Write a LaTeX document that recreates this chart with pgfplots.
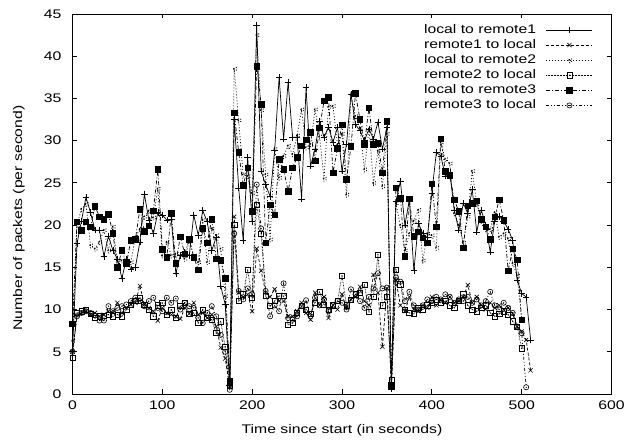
\documentclass[border=0pt]{standalone}
\usepackage{fontspec}
\setmainfont{Liberation Sans}
\usepackage{graphicx}
\usepackage{pgfplots}
\usepackage{pgfplotstable}
\pgfplotsset{compat=1.18}

% gnuplot text is wider than Arial: stretch it along the line
\newcommand{\sx}[1]{\scalebox{1.26}[1]{#1}}

\pgfdeclareplotmark{sqdot}{%
  \pgfpathrectangle{\pgfqpoint{-\pgfplotmarksize}{-\pgfplotmarksize}}{\pgfqpoint{2\pgfplotmarksize}{2\pgfplotmarksize}}%
  \pgfusepathqstroke
  \pgfpathcircle{\pgfpointorigin}{0.6pt}\pgfusepathqfill}
\pgfdeclareplotmark{ocdot}{%
  \pgfpathcircle{\pgfpointorigin}{\pgfplotmarksize}\pgfusepathqstroke
  \pgfpathcircle{\pgfpointorigin}{0.6pt}\pgfusepathqfill}

% A: local->remote1, B: remote1->local, C: local->remote2
% D: remote2->local, E: local->remote3, F: remote3->local
\pgfplotstableread{
t A B C D E F
0 5.0 5.0 6.3 4.3 8.3 5.0
5 17.8 9.3 20.0 9.6 20.4 9.2
10 20.5 9.6 21.9 9.8 19.4 9.6
15 23.3 9.8 22.5 10.0 20.4 9.8
20 21.5 9.4 17.6 9.5 19.8 9.6
25 19.4 9.6 17.2 9.0 22.2 9.3
30 19.4 9.2 18.0 9.2 21.0 8.7
35 16.3 9.4 19.4 9.3 20.7 8.7
40 18.7 9.8 17.0 9.4 21.3 10.4
45 17.0 9.6 19.8 9.2 19.0 9.8
50 16.0 10.8 15.6 9.4 15.0 10.2
55 13.7 9.6 15.8 9.2 17.0 10.4
60 16.0 10.2 15.4 10.0 15.5 10.6
65 14.8 10.6 15.6 10.6 18.2 11.0
70 15.0 10.8 18.6 11.0 18.3 11.4
75 18.0 12.8 19.5 11.4 21.9 11.0
80 23.7 10.6 21.0 10.6 19.3 10.4
85 20.6 10.2 21.7 10.0 19.9 11.0
90 19.0 9.8 20.9 9.2 21.7 11.4
95 21.5 8.7 24.3 10.5 26.6 10.2
100 21.2 10.2 16.4 10.8 17.1 9.8
105 20.6 9.6 18.0 9.4 16.2 11.4
110 20.7 9.4 16.4 10.0 21.4 10.8
115 14.3 9.2 16.6 9.0 15.5 11.3
120 16.4 8.9 16.4 10.4 18.6 10.0
125 16.8 10.2 16.0 10.8 16.6 10.8
130 16.4 9.5 18.2 9.5 18.3 10.4
135 21.2 10.8 16.4 9.6 16.2 10.2
140 18.8 9.4 15.6 8.4 14.7 9.0
145 21.7 9.6 20.6 10.0 19.6 8.4
150 20.4 9.0 15.6 9.0 17.9 9.6
155 17.0 9.4 19.6 8.8 20.7 10.4
160 18.6 8.0 18.8 7.2 16.0 9.2
165 12.8 5.5 17.2 8.6 15.8 7.0
170 10.6 4.2 11.6 5.6 13.7 5.0
175 1.0 0.8 1.0 1.0 1.5 0.5
180 32.5 21.0 38.5 20.0 33.3 19.0
185 24.4 12.0 32.4 11.0 28.6 12.2
190 18.2 11.5 26.0 11.8 24.7 11.2
195 28.0 11.8 25.8 14.7 26.8 12.5
200 20.4 9.8 23.8 11.4 21.6 11.8
205 43.7 17.2 42.5 22.4 38.8 24.8
210 26.4 14.6 33.6 19.0 34.3 19.6
215 24.8 12.0 26.0 11.6 17.9 12.2
220 23.4 11.5 18.3 10.4 22.4 9.2
225 28.8 12.4 29.0 11.0 21.2 10.5
230 37.5 11.0 25.6 11.6 27.8 9.8
235 30.2 11.0 28.2 11.6 26.6 13.1
240 36.9 9.2 29.4 8.2 24.0 9.0
245 30.4 9.2 28.4 8.4 26.8 8.8
250 30.4 9.8 30.6 9.6 28.0 9.2
255 23.1 10.8 33.7 10.4 29.4 10.4
260 36.3 9.6 29.2 10.0 30.1 11.1
265 27.0 8.8 29.6 9.5 31.0 9.2
270 29.0 12.0 33.7 10.8 27.6 11.4
275 32.3 10.5 30.5 12.1 31.5 10.5
280 30.4 11.5 25.5 10.6 34.7 11.2
285 31.6 9.0 34.0 10.0 35.1 9.8
290 29.8 10.5 34.1 10.5 26.2 10.5
295 31.6 10.0 29.5 11.0 29.1 11.0
300 26.4 11.8 30.8 14.0 31.9 10.8
305 29.6 10.2 23.6 10.5 25.4 10.0
310 35.5 11.2 35.4 11.2 29.3 12.4
315 31.9 11.5 32.9 11.8 35.6 11.8
320 31.2 12.7 31.5 12.0 32.5 11.0
325 30.0 11.0 26.6 12.9 29.6 10.2
330 31.4 10.5 31.4 9.7 33.9 11.5
335 30.2 14.1 25.0 11.5 29.6 12.5
340 32.2 12.0 28.8 16.5 29.7 14.3
345 29.0 5.6 24.6 10.5 26.2 12.5
350 31.6 12.5 30.8 11.5 32.3 12.6
355 0.6 1.0 1.0 1.7 1.0 0.8
360 22.8 13.5 22.6 14.7 24.4 13.8
365 25.2 10.5 20.0 13.0 23.2 13.3
370 20.0 9.8 17.0 10.0 16.3 11.0
375 23.0 11.5 19.0 9.6 23.1 12.1
380 14.6 10.0 20.5 9.5 18.7 10.5
385 20.2 9.8 21.8 10.2 19.2 10.0
390 19.0 10.5 15.8 10.0 18.5 10.5
395 18.5 10.2 19.0 10.5 17.9 11.2
400 23.8 11.5 18.8 10.8 24.9 11.0
405 28.6 10.5 17.3 11.2 19.8 11.5
410 28.2 11.2 29.8 10.8 30.2 11.2
415 25.8 10.8 27.8 11.0 26.4 11.8
420 26.2 11.5 27.3 10.5 25.9 11.5
425 21.8 10.8 21.4 10.2 23.0 10.8
430 19.4 11.0 20.0 11.0 21.6 11.2
435 22.6 11.5 17.9 11.8 17.3 11.0
440 21.4 12.9 21.0 10.5 22.3 11.5
445 24.2 10.8 26.4 10.0 22.6 10.8
450 19.2 11.5 22.5 9.8 22.9 11.2
455 21.8 10.5 20.5 10.2 20.7 10.5
460 20.0 10.0 19.5 10.5 19.8 11.0
465 16.8 10.8 19.5 9.6 18.3 12.1
470 20.5 10.2 21.5 9.2 21.0 10.5
475 21.0 10.5 18.6 9.5 23.0 10.0
480 20.5 10.0 19.0 9.8 20.6 10.8
485 19.5 10.2 18.4 9.4 14.6 10.2
490 18.2 9.5 15.5 8.6 17.2 9.6
495 13.5 8.0 14.0 8.0 15.9 8.0
500 11.9 7.4 8.8 5.4 8.8 7.2
505 11.5 6.4 nan nan nan 0.8
510 6.4 2.8 nan nan nan nan
}\data

\begin{document}
\begin{tikzpicture}
\begin{axis}[
    at={(0,0)}, anchor=south west,
    scale only axis, width=539pt, height=380pt,
    xmin=0, xmax=600, ymin=0, ymax=45,
    xtick={0,100,...,600}, ytick={0,5,...,45},
    xticklabels={\sx{0},\sx{100},\sx{200},\sx{300},\sx{400},\sx{500},\sx{600}},
    yticklabels={\sx{0},\sx{5},\sx{10},\sx{15},\sx{20},\sx{25},\sx{30},\sx{35},\sx{40},\sx{45}},
    tick align=inside, major tick length=4.5pt,
    axis line style={line width=0.9pt},
    every tick/.style={black, line width=0.9pt},
    font=\fontsize{12.5}{14}\selectfont,
    xticklabel style={anchor=north, inner sep=0pt, yshift=-7pt},
    yticklabel style={anchor=east, inner sep=0pt, xshift=-10.8pt},
    xlabel={\sx{Time since start (in seconds)}},
    xlabel style={at={(axis description cs:0.5,-0.0947)}, anchor=center, inner sep=0pt},
    ylabel={\sx{Number of packets (per second)}},
    ylabel style={at={(axis description cs:-0.0993,0.463)}, anchor=center, inner sep=0pt},
    legend plot pos=right,
    legend cell align=right,
    legend style={draw=none, fill=none, at={(axis description cs:0.9657,0.9737)}, anchor=north east,
        inner sep=0pt, row sep=3.6pt, column sep=10pt,
        nodes={inner sep=0pt, text height=9pt, text depth=2.5pt}},
    legend image code/.code={\draw[mark repeat=2,mark phase=2,#1] plot coordinates {(0pt,0pt) (23pt,0pt) (46pt,0pt)};},
    every axis plot/.append style={black, line width=0.7pt, mark options={solid, line width=0.6pt}},
]
\addplot[solid, mark=+, mark size=3.3pt] table[x=t,y=A] {\data};
\addlegendentry{\sx{local to remote1}}
\addplot[dash pattern=on 3pt off 2pt, mark=x, mark size=2.9pt] table[x=t,y=B] {\data};
\addlegendentry{\sx{remote1 to local}}
\addplot[dash pattern=on 1pt off 2pt, mark=asterisk, mark size=2.9pt, mark options={line width=0.8pt}] table[x=t,y=C] {\data};
\addlegendentry{\sx{local to remote2}}
\addplot[dash pattern=on 0.6pt off 0.9pt, mark=sqdot, mark size=2.6pt] table[x=t,y=D] {\data};
\addlegendentry{\sx{remote2 to local}}
\addplot[dash pattern=on 4pt off 2pt on 1pt off 2pt, mark=square*, mark size=2.8pt] table[x=t,y=E] {\data};
\addlegendentry{\sx{local to remote3}}
\addplot[dash pattern=on 3pt off 2pt on 1pt off 2pt on 1pt off 2pt, mark=ocdot, mark size=2.6pt] table[x=t,y=F] {\data};
\addlegendentry{\sx{remote3 to local}}
\end{axis}
\pgfresetboundingbox
\path (-72.5pt,-49pt) rectangle (553.5pt,394pt);
\end{tikzpicture}
\end{document}
